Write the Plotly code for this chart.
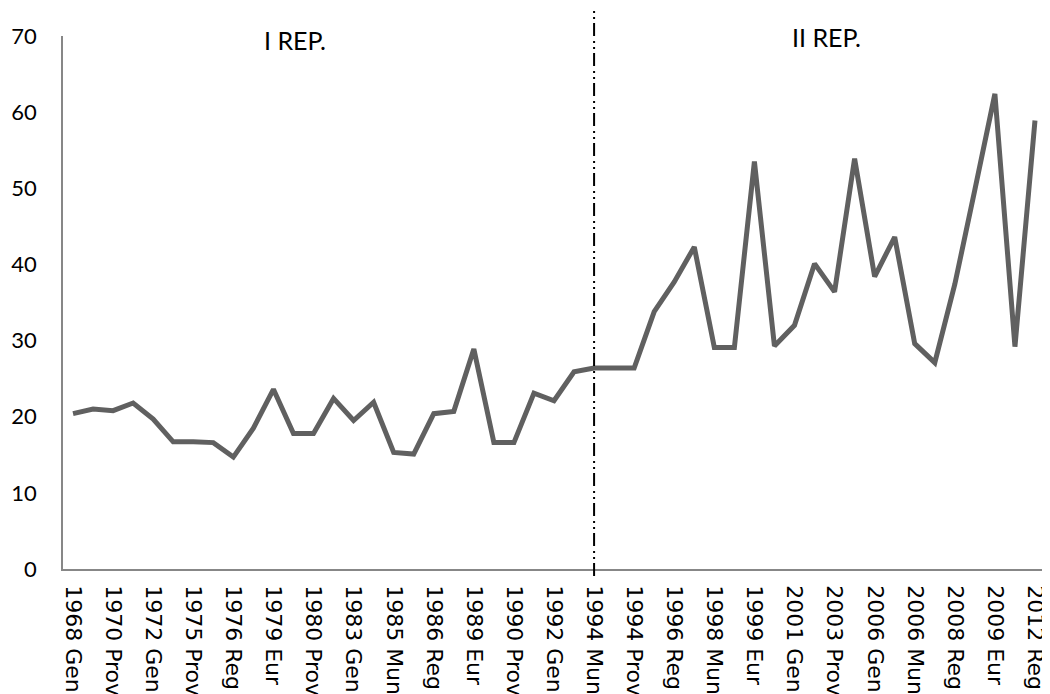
import plotly.graph_objects as go

# elections (every other one is labelled on the axis)
elections = [
    '1968 Gen', '1970 Reg', '1970 Prov', '1970 Mun', '1972 Gen',
    '1975 Reg', '1975 Prov', '1976 Gen', '1976 Reg', '1979 Gen',
    '1979 Eur', '1980 Reg', '1980 Prov', '1980 Mun', '1983 Gen',
    '1984 Eur', '1985 Mun', '1985 Reg', '1986 Reg', '1987 Gen',
    '1989 Eur', '1990 Reg', '1990 Prov', '1990 Mun', '1992 Gen',
    '1993 Mun', '1994 Mun', '1994 Eur', '1994 Prov', '1995 Reg',
    '1996 Reg', '1997 Mun', '1998 Mun', '1998 Prov', '1999 Eur',
    '2000 Reg', '2001 Gen', '2002 Mun', '2003 Prov', '2004 Eur',
    '2006 Gen', '2006 Reg', '2006 Mun', '2008 Gen', '2008 Reg',
    '2008 Prov', '2009 Eur', '2011 Mun', '2012 Reg',
]

values = [
    20.4, 21.0, 20.8, 21.8, 19.7,
    16.7, 16.7, 16.6, 14.7, 18.5,
    23.6, 17.8, 17.8, 22.4, 19.5,
    21.9, 15.3, 15.1, 20.4, 20.7,
    28.9, 16.6, 16.6, 23.1, 22.1,
    25.9, 26.4, 26.4, 26.4, 33.8,
    37.7, 42.3, 29.1, 29.1, 53.5,
    29.3, 32.0, 40.1, 36.4, 53.9,
    38.4, 43.6, 29.6, 27.1, 37.4,
    49.8, 62.4, 29.2, 58.9,
]

split_at = '1994 Mun'
periods = ['I REP.', 'II REP.']

fig = go.Figure()

fig.add_trace(go.Scatter(
    x=elections, y=values,
    mode='lines',
    line={'color': '#606060', 'width': 5},
    showlegend=False,
))

# republic split
fig.add_shape(
    type='line', xref='x', yref='paper',
    x0=split_at, x1=split_at, y0=-0.013, y1=1.052,
    line={'color': 'black', 'width': 2, 'dash': '13px,4px,2px,4px,2px,5px'},
)

fig.add_annotation(text=periods[0], xref='paper', yref='paper', x=0.236, y=0.9925,
                   xanchor='center', yanchor='middle',
                   showarrow=False, font={'family': 'Lato', 'size': 25, 'color': 'black'})
fig.add_annotation(text=periods[1], xref='paper', yref='paper', x=0.778, y=0.998,
                   xanchor='center', yanchor='middle',
                   showarrow=False, font={'family': 'Lato', 'size': 25, 'color': 'black'})

# page body has an 8px margin, so the figure is 8px smaller than the window
fig.update_layout(
    width=1042, height=686,
    margin={'l': 55, 'r': 5, 't': 28, 'b': 125},
    plot_bgcolor='white', paper_bgcolor='white',
    xaxis={
        'type': 'category',
        'automargin': False,
        'range': [-0.5, len(elections) - 0.5],
        'tickvals': elections[::2],
        'tickangle': 90,
        'showgrid': False,
        'showline': True, 'linecolor': '#878787', 'linewidth': 1.5,
        'ticks': '',
        'ticklabelstandoff': 10,
        'tickfont': {'family': 'DejaVu Sans', 'size': 22, 'color': 'black'},
    },
    yaxis={
        'automargin': False,
        'range': [0, 70],
        'tickvals': [0, 10, 20, 30, 40, 50, 60, 70],
        'showgrid': False, 'zeroline': False,
        'showline': True, 'linecolor': '#878787', 'linewidth': 1.5,
        'ticks': '',
        'ticklabelstandoff': 20,
        'tickfont': {'family': 'Lato', 'size': 22, 'color': 'black'},
    },
)

fig.write_html("out.html")
